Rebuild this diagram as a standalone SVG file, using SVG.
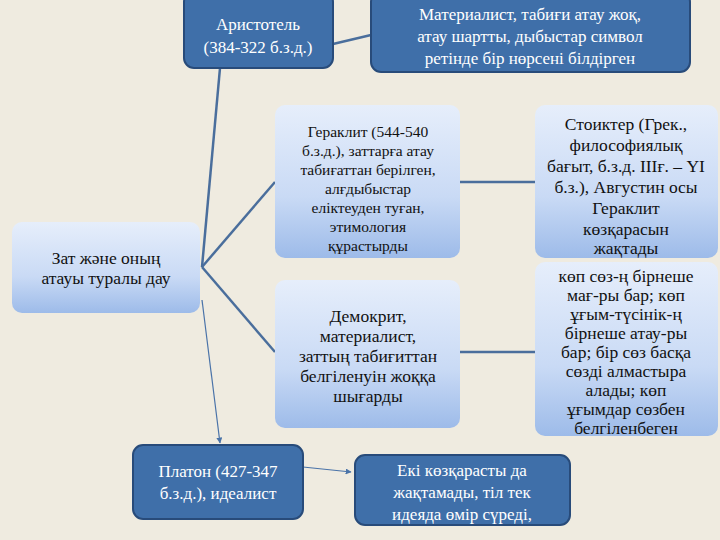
<svg xmlns="http://www.w3.org/2000/svg" width="720" height="540" viewBox="0 0 720 540">
<defs>
<linearGradient id="lg" x1="0" y1="0" x2="0" y2="1"><stop offset="0" stop-color="#e6eefb"/><stop offset="0.6" stop-color="#c9daf5"/><stop offset="1" stop-color="#9dbbe9"/></linearGradient>
<marker id="ar" viewBox="0 0 10 10" refX="9" refY="5" markerWidth="5" markerHeight="5" orient="auto"><path d="M0,0L10,5L0,10z" fill="#4a73a8"/></marker>
</defs>
<style>
.dk{fill:#3f6fa9;stroke:#284b7a;stroke-width:2}
.lt{fill:url(#lg);stroke:none}
.tw{font-family:"Liberation Serif",serif;font-size:17px;fill:#fff;text-anchor:middle}
.tb{font-family:"Liberation Serif",serif;font-size:17.5px;fill:#111;text-anchor:middle}
.hs{font-size:15.5px}
.c{stroke:#4a6e9c;stroke-width:2.5;fill:none}
.ct{stroke:#4a73a8;stroke-width:1.2;fill:none}
</style>
<rect width="720" height="540" fill="#efebe0"/>
<g id="connectors">
<path class="c" d="M202,267L220,68"/>
<path class="c" d="M202,267L275,182"/>
<path class="c" d="M202,267L275,352"/>
<path class="ct" d="M202,300L220,443" marker-end="url(#ar)"/>
<path class="c" d="M333,44L371,35"/>
<path class="c" d="M460,182L535,182"/>
<path class="c" d="M460,352L535,352"/>
<path class="ct" d="M303,467L351,472" marker-end="url(#ar)"/>
</g>
<g id="aristotel"><rect class="dk" x="184" y="-8" width="149" height="76" rx="10"/>
<text class="tw" x="258" y="30">Аристотель</text><text class="tw" x="258" y="53">(384-322 б.з.д.)</text></g>
<g id="materialist"><rect class="dk" x="371" y="-8" width="319" height="80" rx="10"/>
<text class="tw" x="530" y="20">Материалист, табиғи атау жоқ,</text><text class="tw" x="530" y="42">атау шартты, дыбыстар символ</text><text class="tw" x="530" y="64">ретінде бір нөрсені білдірген</text></g>
<g id="zat"><rect class="lt" x="12" y="222" width="188" height="91" rx="10"/>
<text class="tb" x="106" y="264">Зат және оның</text><text class="tb" x="106" y="284">атауы туралы дау</text></g>
<g id="heraklit"><rect class="lt" x="275" y="105" width="185" height="153" rx="10"/>
<text class="tb hs" x="368" y="137">Гераклит (544-540</text><text class="tb hs" x="368" y="156">б.з.д.), заттарға атау</text><text class="tb hs" x="368" y="175">табиғаттан берілген,</text><text class="tb hs" x="368" y="194">алғдыбыстар</text><text class="tb hs" x="368" y="213">еліктеуден туған,</text><text class="tb hs" x="368" y="232">этимология</text><text class="tb hs" x="368" y="251">құрастырды</text></g>
<g id="stoikter"><rect class="lt" x="535" y="105" width="183" height="153" rx="10"/>
<text class="tb" x="626" y="130">Стоиктер (Грек.,</text><text class="tb" x="626" y="151">философиялық</text><text class="tb" x="626" y="172">бағыт, б.з.д. ІІІғ. – YI</text><text class="tb" x="626" y="193">б.з.), Августин  осы</text><text class="tb" x="626" y="214">Гераклит</text><text class="tb" x="626" y="235">көзқарасын</text><text class="tb" x="626" y="254">жақтады</text></g>
<g id="demokrit"><rect class="lt" x="275" y="280" width="185" height="148" rx="10"/>
<text class="tb" x="368" y="322">Демокрит,</text><text class="tb" x="368" y="342">материалист,</text><text class="tb" x="368" y="362">заттың табиғиттан</text><text class="tb" x="368" y="382">белгіленуін жоққа</text><text class="tb" x="368" y="402">шығарды</text></g>
<g id="kop"><rect class="lt" x="535" y="262" width="183" height="174" rx="10"/>
<text class="tb" x="626" y="282">көп сөз-ң бірнеше</text><text class="tb" x="626" y="301">мағ-ры бар; көп</text><text class="tb" x="626" y="320">ұғым-түсінік-ң</text><text class="tb" x="626" y="339">бірнеше атау-ры</text><text class="tb" x="626" y="358">бар; бір сөз басқа</text><text class="tb" x="626" y="377">сөзді алмастыра</text><text class="tb" x="626" y="396">алады; көп</text><text class="tb" x="626" y="415">ұғымдар сөзбен</text><text class="tb" x="626" y="434">белгіленбеген</text></g>
<g id="platon"><rect class="dk" x="133" y="445" width="170" height="74" rx="10"/>
<text class="tw" x="218" y="477">Платон (427-347</text><text class="tw" x="218" y="499">б.з.д.), идеалист</text></g>
<g id="eki"><rect class="dk" x="355" y="455" width="215" height="70" rx="10"/>
<text class="tw" x="462" y="476">Екі көзқарасты да</text><text class="tw" x="462" y="498">жақтамады, тіл тек</text><text class="tw" x="462" y="520">идеяда өмір сүреді,</text></g>
</svg>
